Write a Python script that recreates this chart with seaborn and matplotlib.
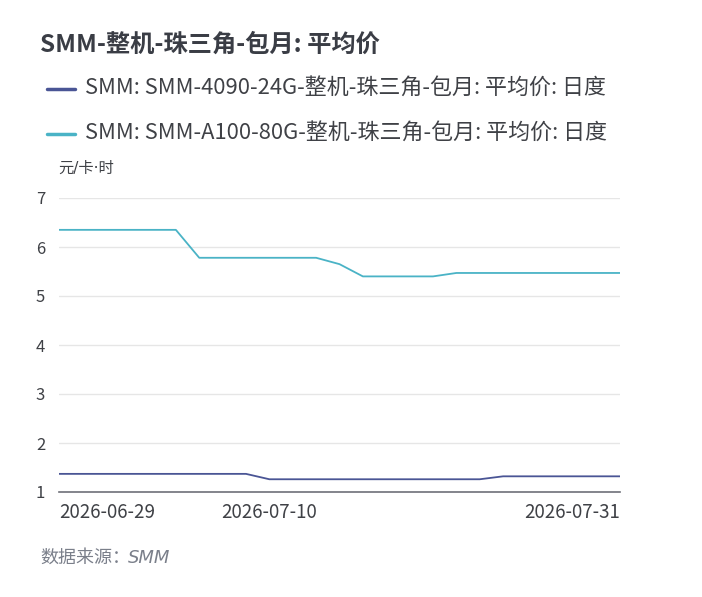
import matplotlib
matplotlib.use("Agg")
import matplotlib.pyplot as plt
import seaborn as sns
import pandas as pd

dates = ["2026-06-29", "2026-06-30", "2026-07-01", "2026-07-02", "2026-07-03",
         "2026-07-06", "2026-07-07", "2026-07-08", "2026-07-09", "2026-07-10",
         "2026-07-13", "2026-07-14", "2026-07-15", "2026-07-16", "2026-07-17",
         "2026-07-20", "2026-07-21", "2026-07-22", "2026-07-23", "2026-07-24",
         "2026-07-27", "2026-07-28", "2026-07-29", "2026-07-30", "2026-07-31"]
series_4090 = [1.37, 1.37, 1.37, 1.37, 1.37, 1.37, 1.37, 1.37, 1.37, 1.26,
               1.26, 1.26, 1.26, 1.26, 1.26, 1.26, 1.26, 1.26, 1.26, 1.32,
               1.32, 1.32, 1.32, 1.32, 1.32]
series_a100 = [6.35, 6.35, 6.35, 6.35, 6.35, 6.35, 5.78, 5.78, 5.78, 5.78,
               5.78, 5.78, 5.65, 5.40, 5.40, 5.40, 5.40, 5.47, 5.47, 5.47,
               5.47, 5.47, 5.47, 5.47, 5.47]
names = ["SMM: SMM-4090-24G-整机-珠三角-包月: 平均价: 日度",
         "SMM: SMM-A100-80G-整机-珠三角-包月: 平均价: 日度"]
colors = ["#4a5595", "#4ab3c6"]
shown_ticks = ["2026-06-29", "2026-07-10", "2026-07-31"]

sns.set_theme(style="white")
plt.rcParams['font.family'] = ['Noto Sans CJK SC', 'DejaVu Sans']

df = pd.concat([
    pd.DataFrame({"idx": range(len(dates)), "value": series_4090, "series": names[0]}),
    pd.DataFrame({"idx": range(len(dates)), "value": series_a100, "series": names[1]}),
])

fig = plt.figure(figsize=(7.02, 5.97), dpi=100)
ax = fig.add_axes([59/702, 1 - 492/597, (620-59)/702, (492-198)/597])

sns.lineplot(data=df, x="idx", y="value", hue="series", palette=colors,
             linewidth=1.3, ax=ax, legend=False)

ax.set_xlim(0, len(dates) - 1)
ax.set_ylim(1, 7)
ax.set_yticks([1, 2, 3, 4, 5, 6, 7])
ax.grid(axis="y", color="#e6e6e6", linewidth=1)
ax.set_axisbelow(True)
for s in ["top", "right", "left"]:
    ax.spines[s].set_visible(False)
ax.spines["bottom"].set_color("#6e7079")
ax.spines["bottom"].set_linewidth(1.2)
ax.set_xlabel("")
ax.set_ylabel("")

pos = [dates.index(d) for d in shown_ticks]
ax.set_xticks(pos)
ax.set_xticklabels(shown_ticks)
for lab, ha in zip(ax.get_xticklabels(), ["left", "center", "right"]):
    lab.set_ha(ha)
ax.tick_params(axis="x", length=0, pad=7, labelsize=13.5, labelcolor="#3f4146")
ax.tick_params(axis="y", length=0, pad=10, labelsize=12, labelcolor="#3f4146")

fig.text(40/702, 1 - 45/597, "SMM-整机-珠三角-包月: 平均价", fontsize=17.5,
         fontweight="bold", color="#3a3d45", va="center", ha="left")

for i, (name, c) in enumerate(zip(names, colors)):
    yy = 1 - (89 + 45*i)/597
    fig.add_artist(plt.Line2D([47/702, 75/702], [yy, yy], color=c, linewidth=2.5,
                              transform=fig.transFigure))
    fig.text(85/702, yy, name, fontsize=15.8, color="#3f4146", va="center", ha="left")

fig.text(58/702, 1 - 168/597, "元/卡·时", fontsize=11, color="#3f4146",
         va="center", ha="left", family=['DejaVu Sans', 'Noto Sans CJK SC'])
fig.text(40/702, 1 - 558/597, "数据来源：", fontsize=13, color="#7a7f8a",
         va="center", ha="left")
fig.text(40/702 + 88/702, 1 - 558/597, "SMM", fontsize=13, color="#7a7f8a",
         style="italic", va="center", ha="left", family=['DejaVu Sans'])

fig.savefig("out.png", dpi=100, facecolor="white")
